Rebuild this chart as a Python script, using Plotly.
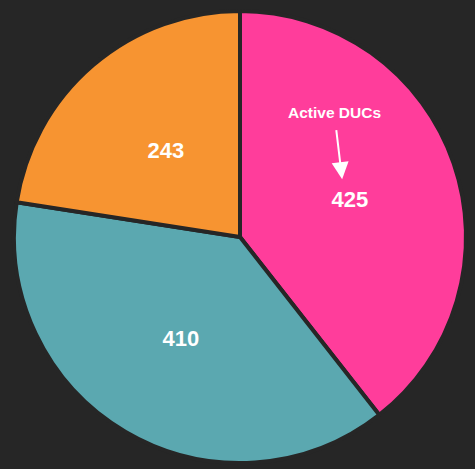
import plotly.graph_objects as go

# slice data, clockwise from 12 o'clock
labels = ["Active DUCs", "Group B", "Group C"]
values = [425, 410, 243]
colors = ["#FF3D9B", "#5BA8B0", "#F79431"]

label_font = dict(family="Liberation Sans, Arial", size=22, color="white", weight="bold")

# main pie carries the two big slice labels
main_text = [str(v) for v in values[:2]] + [""]
# smaller transparent twin pulls the small-slice label nearer the centre
inner_text = ["", "", str(values[2])]

fig = go.Figure()
fig.add_trace(go.Pie(
    labels=labels,
    values=values,
    sort=False,
    direction="clockwise",
    rotation=0,
    marker=dict(colors=colors, line=dict(color="#262626", width=4)),
    text=main_text,
    textinfo="text",
    textposition="inside",
    insidetextorientation="horizontal",
    textfont=label_font,
    hoverinfo="label+value",
    showlegend=False,
))
fig.add_trace(go.Pie(
    labels=labels,
    values=values,
    sort=False,
    direction="clockwise",
    rotation=0,
    domain=dict(x=[0.084, 0.916], y=[0.084, 0.916]),
    marker=dict(colors=["rgba(0,0,0,0)"] * 3, line=dict(width=0)),
    text=inner_text,
    textinfo="text",
    textposition="inside",
    insidetextorientation="horizontal",
    textfont=label_font,
    hoverinfo="skip",
    showlegend=False,
))

fig.add_annotation(
    x=0.726, y=0.628, xref="paper", yref="paper",
    text="<b>Active DUCs</b>",
    showarrow=True, ax=-8, ay=-67,
    arrowhead=2, arrowsize=1.7, arrowwidth=2, arrowcolor="white",
    startstandoff=8,
    font=dict(family="Liberation Sans, Arial", size=15.5, color="white"),
)

fig.update_layout(
    width=475,
    height=469,
    paper_bgcolor="#262626",
    plot_bgcolor="#262626",
    margin=dict(l=14, r=9, t=11, b=6),
    uniformtext=dict(minsize=10),
)

# drop the default page margin so the figure sits at the window's corner
fig.write_html(
    "out.html",
    config={"displayModeBar": False},
    post_script="document.body.style.margin='0';document.body.style.background='#262626';",
)
